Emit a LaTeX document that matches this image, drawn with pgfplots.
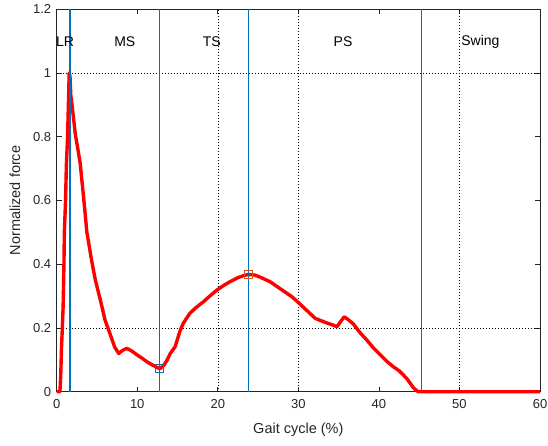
\documentclass[border=0pt]{standalone}
\usepackage{fontspec}
\setmainfont{Liberation Sans}
\usepackage{pgfplots}
\pgfplotsset{compat=1.18}
\definecolor{mblue}{rgb}{0,0.447,0.741}
\definecolor{morange}{rgb}{0.85,0.325,0.098}
\definecolor{axgray}{rgb}{0.15,0.15,0.15}
\begin{document}
\begin{tikzpicture}
\path[use as bounding box] (-56.7pt,-53.3pt) rectangle (491.3pt,391.7pt);
\begin{axis}[
  at={(0pt,0pt)}, anchor=south west,
  scale only axis, width=483.3pt, height=382.4pt,
  xmin=0, xmax=60, ymin=0, ymax=1.2,
  xtick={0,10,...,60}, ytick={0,0.2,0.4,0.6,0.8,1,1.2},
  yticklabels={0,0.2,0.4,0.6,0.8,1,1.2},
  tick align=inside, major tick length=5pt,
  axis line style={axgray, line width=0.7pt},
  tick style={axgray, line width=0.7pt},
  tick label style={font=\fontsize{13}{15}\selectfont, text=axgray},
  /pgf/number format/assume math mode=true,
  xticklabel style={yshift=-4pt},
  yticklabel style={xshift=-2pt},
  xlabel={Gait cycle (\%)}, ylabel={Normalized force},
  label style={font=\fontsize{14.5}{17}\selectfont, text=axgray},
  xlabel style={at={(axis description cs:0.5,-0.099)}, anchor=center},
  ylabel style={at={(axis description cs:-0.0863,0.5)}, anchor=center},
  clip=false,
]
% grid lines (dotted)
\addplot[black, line width=0.6pt, dash pattern=on 0.8pt off 2.2pt] coordinates {(20,0) (20,1.2)};
\addplot[black, line width=0.6pt, dash pattern=on 0.8pt off 2.2pt] coordinates {(30,0) (30,1.2)};
\addplot[black, line width=0.6pt, dash pattern=on 0.8pt off 2.2pt] coordinates {(50,0) (50,1.2)};
\addplot[black, line width=0.6pt, dash pattern=on 0.8pt off 2.2pt] coordinates {(0,1) (60,1)};
\addplot[black, line width=0.6pt, dash pattern=on 0.8pt off 2.2pt] coordinates {(0,0.2) (60,0.2)};
% force curve
\addplot[red, line width=3.4pt, line join=round] coordinates {
(0,0) (0.4,0) (0.5,0.05) (0.6,0.14) (0.7,0.2) (0.8,0.27) (0.9,0.40) (0.95,0.50)
(1.1,0.60) (1.2,0.71) (1.35,0.80) (1.45,0.90) (1.55,1.0) (1.65,0.99) (1.75,0.93)
(1.95,0.89) (2.3,0.81) (2.9,0.72) (3.3,0.62) (3.75,0.50) (4.35,0.41) (4.8,0.35)
(5.4,0.29) (6.0,0.225) (6.6,0.183) (7.2,0.14) (7.7,0.12) (8.2,0.13) (8.7,0.136)
(9.3,0.128) (9.9,0.117) (10.6,0.105) (11.2,0.094) (11.8,0.085) (12.4,0.077)
(12.8,0.072) (13.3,0.083) (13.7,0.099) (14.1,0.12) (14.7,0.141) (15.3,0.19)
(15.7,0.214) (16.5,0.245) (17.2,0.262) (18.2,0.282) (19.0,0.30) (19.9,0.319)
(20.7,0.333) (21.5,0.345) (22.5,0.358) (23.3,0.365) (23.8,0.368) (24.6,0.366)
(25.3,0.359) (26.5,0.345) (27.7,0.324) (29.2,0.298) (30.0,0.28) (30.8,0.261)
(32.1,0.23) (33.5,0.216) (34.2,0.21) (34.8,0.204) (35.3,0.222) (35.7,0.235)
(36.2,0.226) (36.85,0.212) (37.6,0.187) (38.5,0.162) (39.3,0.138) (40.2,0.115)
(41.0,0.095) (41.8,0.078) (42.5,0.066) (43.06,0.052) (43.5,0.04) (43.9,0.026)
(44.3,0.012) (44.7,0.003) (44.9,0) (60,0)
};
% phase lines
\addplot[mblue, line width=1.4pt] coordinates {(1.65,0) (1.65,1.2)};
\addplot[mblue, line width=1.4pt] coordinates {(12.75,0) (12.75,1.2)};
\addplot[mblue, line width=1.4pt] coordinates {(23.8,0) (23.8,1.2)};
\addplot[mblue, line width=1.4pt] coordinates {(45.3,0) (45.3,1.2)};
% markers
\addplot[mblue, only marks, mark=square, mark size=4pt, mark options={line width=0.9pt}] coordinates {(12.75,0.072)};
\addplot[morange, only marks, mark=square, mark size=4pt, mark options={line width=0.9pt}] coordinates {(23.8,0.368)};
% phase names
\node[font=\fontsize{14}{16}\selectfont] at (axis cs:1.04,1.097) {LR};
\node[font=\fontsize{14}{16}\selectfont] at (axis cs:8.45,1.097) {MS};
\node[font=\fontsize{14}{16}\selectfont] at (axis cs:19.25,1.097) {TS};
\node[font=\fontsize{14}{16}\selectfont] at (axis cs:35.55,1.097) {PS};
\node[font=\fontsize{14}{16}\selectfont] at (axis cs:52.6,1.097) {Swing};
\end{axis}
\end{tikzpicture}
\end{document}
